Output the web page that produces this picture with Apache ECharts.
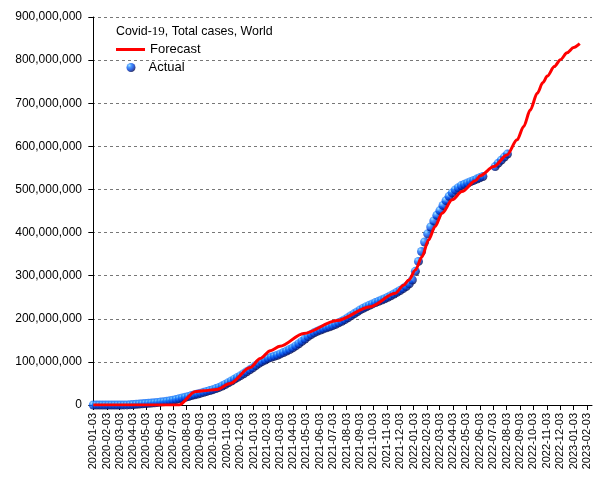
<!DOCTYPE html>
<html>
<head>
<meta charset="utf-8">
<script src="https://cdn.jsdelivr.net/npm/echarts@6/dist/echarts.min.js"></script>
<style>html,body{margin:0;padding:0;background:#fff}#c{width:605px;height:480px}</style>
</head>
<body>
<div id="c"></div>
<script>
// ---- Data (values in millions of cases) ----
var tickLabels = ["2020-01-03","2020-02-03","2020-03-03","2020-04-03","2020-05-03","2020-06-03","2020-07-03","2020-08-03","2020-09-03","2020-10-03","2020-11-03","2020-12-03",
"2021-01-03","2021-02-03","2021-03-03","2021-04-03","2021-05-03","2021-06-03","2021-07-03","2021-08-03","2021-09-03","2021-10-03","2021-11-03","2021-12-03",
"2022-01-03","2022-02-03","2022-03-03","2022-04-03","2022-05-03","2022-06-03","2022-07-03","2022-08-03","2022-09-03","2022-10-03","2022-11-03","2022-12-03",
"2023-01-03","2023-02-03"];

var forecastDates = ["2020-01-03","2020-07-17","2020-08-22","2020-09-10","2020-10-11","2020-11-10","2020-12-26","2021-01-18","2021-02-10","2021-03-04","2021-04-27","2021-07-12","2021-09-26","2021-11-22","2021-12-11","2021-12-23","2022-01-07","2022-01-22","2022-02-06","2022-02-21","2022-03-09","2022-04-01","2022-04-23","2022-05-24","2022-06-04","2022-07-05","2022-08-04","2022-08-27","2022-09-11","2022-09-26","2022-10-12","2022-10-25","2022-11-04","2022-11-20","2022-12-04","2022-12-19","2023-01-03","2023-01-17"];
var forecastValues = [0,0,31,33,36,50,87,108,126,136,166,196,228,259,278,290,313,344,383,414,445,476,495,520,532,553,580,615,646,684,723,748,763,785,801,817,829,838];

var actualDates = ["2020-01-03","2020-01-10","2020-01-17","2020-01-24","2020-01-31","2020-02-07","2020-02-14","2020-02-21","2020-02-28","2020-03-06","2020-03-13","2020-03-20","2020-03-27","2020-04-03","2020-04-10","2020-04-17","2020-04-24","2020-05-01","2020-05-08","2020-05-15","2020-05-22","2020-05-29","2020-06-05","2020-06-12","2020-06-19","2020-06-26","2020-07-03","2020-07-10","2020-07-17","2020-07-24","2020-07-31","2020-08-07","2020-08-14","2020-08-21","2020-08-28","2020-09-04","2020-09-11","2020-09-18","2020-09-25","2020-10-02","2020-10-09","2020-10-16","2020-10-23","2020-10-30","2020-11-06","2020-11-13","2020-11-20","2020-11-27","2020-12-04","2020-12-11","2020-12-18","2020-12-25",
"2021-01-01","2021-01-08","2021-01-15","2021-01-22","2021-01-29","2021-02-05","2021-02-12","2021-02-19","2021-02-26","2021-03-05","2021-03-12","2021-03-19","2021-03-26","2021-04-02","2021-04-09","2021-04-16","2021-04-23","2021-04-30","2021-05-07","2021-05-14","2021-05-21","2021-05-28","2021-06-04","2021-06-11","2021-06-18","2021-06-25","2021-07-02","2021-07-09","2021-07-16","2021-07-23","2021-07-30","2021-08-06","2021-08-13","2021-08-20","2021-08-27","2021-09-03","2021-09-10","2021-09-17","2021-09-24","2021-10-01","2021-10-08","2021-10-15","2021-10-22","2021-10-29","2021-11-05","2021-11-12","2021-11-19","2021-11-26","2021-12-03","2021-12-10","2021-12-17","2021-12-24","2021-12-31",
"2022-01-07","2022-01-14","2022-01-21","2022-01-28","2022-02-04","2022-02-11","2022-02-18","2022-02-25","2022-03-04","2022-03-11","2022-03-18","2022-03-25","2022-04-01","2022-04-08","2022-04-15","2022-04-22","2022-04-29","2022-05-06","2022-05-13","2022-05-20","2022-05-27","2022-06-03","2022-06-10",
"2022-07-08","2022-07-15","2022-07-22","2022-07-29","2022-08-05"];
var actualValues = [0,0,0,0,0.01,0.03,0.05,0.08,0.09,0.1,0.15,0.27,0.6,1.1,1.7,2.3,2.8,3.4,4.0,4.6,5.3,6.0,6.9,7.8,8.8,10.0,11.3,12.8,14.5,16.3,18.0,19.8,21.8,23.8,25.6,27.4,29.4,31.5,33.6,35.6,38.0,40.8,44.0,47.6,51.6,55.8,60.0,64.0,68.0,72.5,77.0,81.5,
86.0,91.5,96.5,100.5,104.5,108.0,110.5,113.0,115.5,118.5,121.5,125.0,128.5,132.5,137.0,142.0,147.5,153.0,158.5,163.5,167.5,171.0,174.0,176.5,179.0,181.5,184.0,187.0,190.5,194.0,198.0,202.5,207.0,211.5,216.0,220.5,224.5,228.0,231.5,234.5,237.5,240.5,243.5,246.5,250.0,253.5,257.5,261.5,265.5,270.0,275.0,281.0,290.0,
310,333,356,378,397,413,427,440,451,463,474,484,492,499,504,509,512,515,518,521,524,527,530,
553,561,568,575,582];

// ---- helpers ----
var ORIGIN = Date.UTC(2020,0,3);
function dayOf(s){ var p=s.split('-'); return (Date.UTC(+p[0],+p[1]-1,+p[2])-ORIGIN)/86400000; }
var tickDays = tickLabels.map(dayOf);
function pairs(ds, vs){ return ds.map(function(d,i){ return [dayOf(d), vs[i]*1e6]; }); }
function commas(v){ return String(Math.round(v)).replace(/\B(?=(\d{3})+(?!\d))/g, ','); }

var dotColor = {
  type: 'radial', x: 0.32, y: 0.28, r: 0.78,
  colorStops: [
    { offset: 0, color: '#8fdcff' },
    { offset: 0.28, color: '#1e80ff' },
    { offset: 0.6, color: '#0042dc' },
    { offset: 0.85, color: '#001a80' },
    { offset: 1, color: '#000030' }
  ]
};

var chart = echarts.init(document.getElementById('c'));
chart.setOption({
  animation: false,
  backgroundColor: '#fff',
  title: {
    left: 116, top: 25, padding: 0,
    text: '{a|Covid-}{b|19}{a|, Total cases, World}',
    textStyle: {
      fontWeight: 'normal',
      rich: {
        a: { fontFamily: 'Liberation Sans', fontSize: 12.4, fontWeight: 'normal', color: '#000' },
        b: { fontFamily: 'Liberation Serif', fontSize: 13, fontWeight: 'normal', color: '#000' }
      }
    }
  },
  legend: [
    {
      left: 116, top: 43, padding: 0,
      itemWidth: 29, itemHeight: 3, icon: 'rect',
      textStyle: { fontFamily: 'Liberation Sans', fontSize: 13, color: '#000' },
      data: ['Forecast']
    },
    {
      left: 126.5, top: 61, padding: 0,
      itemWidth: 9, itemHeight: 9, icon: 'circle',
      textStyle: { fontFamily: 'Liberation Sans', fontSize: 13, color: '#000', padding: [0, 0, 0, 8] },
      data: ['Actual']
    }
  ],
  grid: { left: 92, right: 13, top: 17, bottom: 75 },
  xAxis: {
    type: 'value', min: -3, max: 1138,
    axisLine: { show: true, lineStyle: { color: '#000', width: 1 } },
    axisTick: { show: true, length: 5, customValues: tickDays, lineStyle: { color: '#000' } },
    splitLine: { show: false },
    axisLabel: {
      customValues: tickDays, rotate: 90, margin: 8,
      fontFamily: 'Liberation Sans', fontSize: 11, color: '#000',
      formatter: function(v){ var i = tickDays.indexOf(v); return i >= 0 ? tickLabels[i] : ''; }
    }
  },
  yAxis: {
    type: 'value', min: 0, max: 900e6, interval: 100e6,
    axisLine: { show: true, lineStyle: { color: '#000', width: 1 } },
    axisTick: { show: true, length: 5, lineStyle: { color: '#000' } },
    splitLine: { show: true, lineStyle: { color: '#777', type: [3, 3], width: 1 } },
    axisLabel: { fontFamily: 'Liberation Sans', fontSize: 12, color: '#000', margin: 10, formatter: commas }
  },
  series: [
    {
      name: 'Actual', type: 'scatter', z: 2,
      symbol: 'circle', symbolSize: 9,
      itemStyle: { color: dotColor },
      data: pairs(actualDates, actualValues)
    },
    {
      name: 'Forecast', type: 'line', z: 3,
      symbol: 'none', smooth: 0.3, smoothMonotone: 'x',
      lineStyle: { color: '#ff0000', width: 3 },
      itemStyle: { color: '#ff0000' },
      data: pairs(forecastDates, forecastValues)
    }
  ]
});
</script>
</body>
</html>
